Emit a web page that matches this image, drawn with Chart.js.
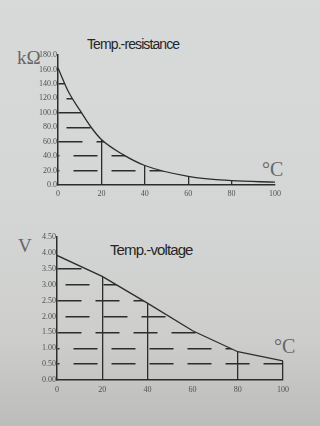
<!DOCTYPE html>
<html>
<head>
<meta charset="utf-8">
<script src="https://cdn.jsdelivr.net/npm/chart.js@4.4.1/dist/chart.umd.min.js"></script>
<style>
  html, body { margin: 0; padding: 0; }
  body {
    width: 320px; height: 426px; overflow: hidden; position: relative;
    background: linear-gradient(to bottom, #d8dad9 0%, #d4d6d5 50%, #cdcecc 80%, #bcbcba 100%);
  }
  canvas { position: absolute; left: 0; }
  #resChart { top: 40px; }
  #voltChart { top: 225px; }
  .lbl { position: absolute; white-space: nowrap; line-height: 1; }
  .title { font-family: 'Liberation Sans', Arial, sans-serif; color: #262626; letter-spacing: -0.9px; }
  .unit { font-family: 'Liberation Serif', serif; color: #666; }
</style>
</head>
<body>
<div class="lbl title" style="left:87px; top:37px; font-size:14px;">Temp.-resistance</div>
<div class="lbl unit" style="left:17px; top:48px; font-size:19px;">kΩ</div>
<div class="lbl unit" style="left:262px; top:159px; font-size:20px;">°C</div>
<canvas id="resChart" width="320" height="160"></canvas>

<div class="lbl title" style="left:110px; top:242px; font-size:15px;">Temp.-voltage</div>
<div class="lbl unit" style="left:18px; top:236px; font-size:19px;">V</div>
<div class="lbl unit" style="left:274px; top:336px; font-size:20px;">°C</div>
<canvas id="voltChart" width="320" height="175"></canvas>

<script>
// temperature / resistance curve
const resTemps = [0, 5, 10, 15, 20, 30, 40, 60, 80, 100];
const resistance = [162, 128, 104, 81, 63, 42, 27, 12, 6, 4];

// temperature / voltage curve
const voltTemps = [0, 20, 40, 60, 80, 100];
const voltage = [3.92, 3.26, 2.42, 1.55, 0.89, 0.6];

// tick labels
const tempLabels = ['0', '20', '40', '60', '80', '100'];
const resLabels = ['0.0', '20.0', '40.0', '60.0', '80.0', '100.0', '120.0', '140.0', '160.0', '180.0'];
const voltLabels = ['0.00', '0.50', '1.00', '1.50', '2.00', '2.50', '3.00', '3.50', '4.00', '4.50'];

// which temperatures get a drop line up to the curve
const resDrops = [20, 40, 60, 80];
const voltDrops = [20, 40, 80, 100];

const INK = '#2c2c2c';
const DASH = [24, 14];
// where the first dash of each horizontal row starts (px from the axis)
const resDashStart = [0, 15, 15, 0, 8, 0, 8, 0, 0, 0];
const voltDashStart = [0, 16, 16, 0, 8, 0, 8, 0, 0, 0];

// wipe the grid above the curve so the dashes only show under it
const eraseAbove = {
    id: 'eraseAbove',
    beforeDatasetsDraw(chart) {
        const { ctx, chartArea } = chart;
        const meta = chart.getDatasetMeta(0);
        const pts = meta.data;
        const opts = meta.dataset.options;
        const curved = opts.tension || opts.cubicInterpolationMode === 'monotone';
        const last = pts[pts.length - 1];
        ctx.save();
        ctx.globalCompositeOperation = 'destination-out';
        ctx.beginPath();
        ctx.moveTo(pts[0].x, chartArea.top - 4);
        ctx.lineTo(pts[0].x, pts[0].y);
        for (let i = 1; i < pts.length; i++) {
            const p = pts[i - 1], q = pts[i];
            if (curved) ctx.bezierCurveTo(p.cp2x, p.cp2y, q.cp1x, q.cp1y, q.x, q.y);
            else ctx.lineTo(q.x, q.y);
        }
        ctx.lineTo(last.x + 4, last.y);
        ctx.lineTo(last.x + 4, chartArea.top - 4);
        ctx.closePath();
        ctx.fill();
        ctx.restore();
    }
};

const tickFont = { family: "'Liberation Serif', serif", size: 8 };

function makeChart(id, xs, ys, o) {
    const points = xs.map((x, i) => ({ x: x, y: ys[i] }));
    const period = DASH[0] + DASH[1];
    return new Chart(document.getElementById(id), {
        type: 'line',
        data: {
            datasets: [{
                data: points,
                borderColor: INK,
                borderWidth: 1.3,
                pointRadius: 0,
                fill: false,
                tension: 0,
                cubicInterpolationMode: o.mode
            }]
        },
        options: {
            responsive: false,
            animation: false,
            events: [],
            layout: { padding: { top: o.padTop, right: o.padRight, left: 0, bottom: 0 } },
            plugins: { legend: { display: false }, tooltip: { enabled: false } },
            scales: {
                x: {
                    type: 'linear',
                    min: 0,
                    max: 100,
                    ticks: {
                        stepSize: 20,
                        color: '#505050',
                        font: tickFont,
                        padding: o.xPad,
                        maxRotation: 0,
                        callback: (v, i) => tempLabels[i]
                    },
                    grid: {
                        drawTicks: false,
                        lineWidth: 1.3,
                        color: c => (c.tick && o.drops.includes(c.tick.value)) ? INK : 'rgba(0,0,0,0)'
                    },
                    border: { color: INK, width: 1.5, z: 1 },
                    afterFit: s => { s.height = o.xHeight; }
                },
                y: {
                    min: 0,
                    max: o.yMax,
                    ticks: {
                        stepSize: o.yStep,
                        color: '#505050',
                        font: tickFont,
                        padding: 1,
                        callback: (v, i) => o.yLabels[i]
                    },
                    grid: {
                        drawTicks: false,
                        lineWidth: 1.4,
                        color: c => (c.index > 0 && c.index < o.yLabels.length - 1) ? INK : 'rgba(0,0,0,0)'
                    },
                    border: {
                        color: INK,
                        width: 1.5,
                        z: 1,
                        dash: DASH,
                        dashOffset: c => c.type === 'tick' ? (period - o.dashStart[c.index]) % period : 0
                    },
                    afterFit: s => { s.width = o.yWidth; }
                }
            }
        },
        plugins: [eraseAbove]
    });
}

makeChart('resChart', resTemps, resistance, {
    mode: 'monotone',
    padTop: 15, padRight: 45, xHeight: 15, xPad: 4, yWidth: 58,
    yMax: 180, yStep: 20, yLabels: resLabels,
    drops: resDrops, dashStart: resDashStart
});

makeChart('voltChart', voltTemps, voltage, {
    mode: 'default',
    padTop: 12, padRight: 37, xHeight: 20, xPad: 5, yWidth: 57,
    yMax: 4.5, yStep: 0.5, yLabels: voltLabels,
    drops: voltDrops, dashStart: voltDashStart
});
</script>
</body>
</html>
